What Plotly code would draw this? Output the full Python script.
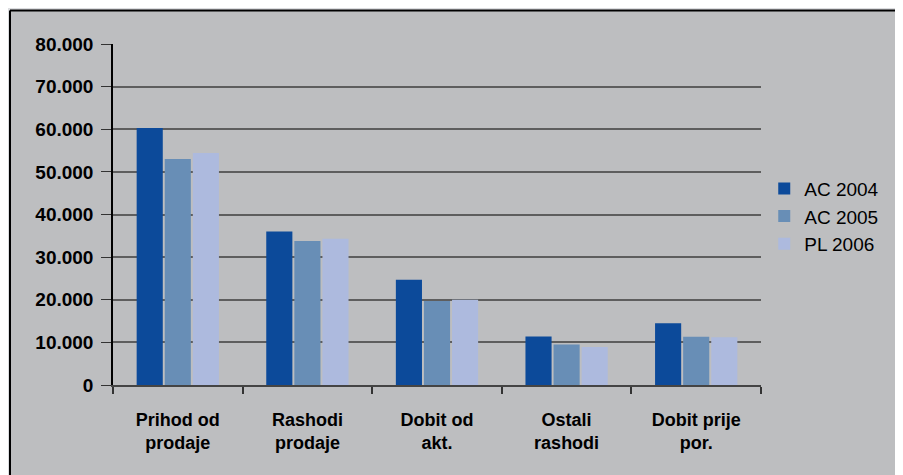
import plotly.graph_objects as go

categories = ["Prihod od<br>prodaje", "Rashodi<br>prodaje", "Dobit od<br>akt.", "Ostali<br>rashodi", "Dobit prije<br>por."]
series_names = ["AC 2004", "AC 2005", "PL 2006"]
ac2004 = [60300, 36000, 24700, 11400, 14500]
ac2005 = [53000, 33800, 19700, 9500, 11300]
pl2006 = [54400, 34300, 20000, 8900, 11200]
colors = ["#0c4a9a", "#688eb6", "#adbade"]
y_tickvals = [0, 10000, 20000, 30000, 40000, 50000, 60000, 70000, 80000]
y_ticktext = ["0", "10.000", "20.000", "30.000", "40.000", "50.000", "60.000", "70.000", "80.000"]

# page body has an 8px margin; figure drawn offset by 8px
W, H = 895, 467
L, R, T, B = 105, 142, 36, 90
pw, ph = W - L - R, H - T - B

fig = go.Figure()
for name, vals, col in zip(series_names, [ac2004, ac2005, pl2006], colors):
    fig.add_trace(go.Bar(x=categories, y=vals, name=name, marker=dict(color=col, line=dict(width=0))))

px = lambda v: (v - L) / pw
py = lambda v: (T + ph - v) / ph
# light outer strips on top/left, then black border lines
fig.add_shape(type="rect", xref="paper", yref="paper", x0=px(0), x1=px(W), y0=py(2.5), y1=py(0),
              fillcolor="#dcdde0", line=dict(width=0), layer="below")
fig.add_shape(type="rect", xref="paper", yref="paper", x0=px(0), x1=px(2), y0=py(H), y1=py(0),
              fillcolor="#dcdde0", line=dict(width=0), layer="below")
fig.add_shape(type="line", xref="paper", yref="paper", x0=px(2), x1=px(W), y0=py(2.5), y1=py(2.5),
              line=dict(color="black", width=2), layer="below")
fig.add_shape(type="line", xref="paper", yref="paper", x0=px(2), x1=px(2), y0=py(2.5), y1=py(H),
              line=dict(color="black", width=2), layer="below")

fig.update_layout(
    width=W, height=H,
    margin=dict(l=L, r=R, t=T, b=B),
    paper_bgcolor="#bdbec0",
    plot_bgcolor="rgba(0,0,0,0)",
    barmode="group",
    bargap=0.35,
    bargroupgap=0.07,
    font=dict(family="Liberation Sans, Arial, sans-serif", color="black"),
    legend=dict(x=1.005, xanchor="left", y=0.494, yanchor="middle",
                font=dict(size=19, color="black"), bgcolor="rgba(0,0,0,0)",
                tracegroupgap=0),
    xaxis=dict(type="category", tickson="boundaries", ticks="outside", ticklen=7,
               tickcolor="#333", tickwidth=2, showline=True, linecolor="#444", linewidth=2,
               tickfont=dict(size=18, family="Liberation Sans, Arial, sans-serif", weight="bold"),
               ticklabelstandoff=17, showgrid=False),
    yaxis=dict(range=[0, 80000], tickvals=y_tickvals, ticktext=y_ticktext,
               ticks="outside", ticklen=10, tickcolor="#333", tickwidth=1,
               showline=True, linecolor="black", linewidth=1.5,
               showgrid=True, gridcolor="#5e5e5e", gridwidth=2, zeroline=False,
               tickfont=dict(size=19, family="Liberation Sans, Arial, sans-serif", weight="bold"),
               ticklabelstandoff=4),
)

fig.write_html("out.html")
